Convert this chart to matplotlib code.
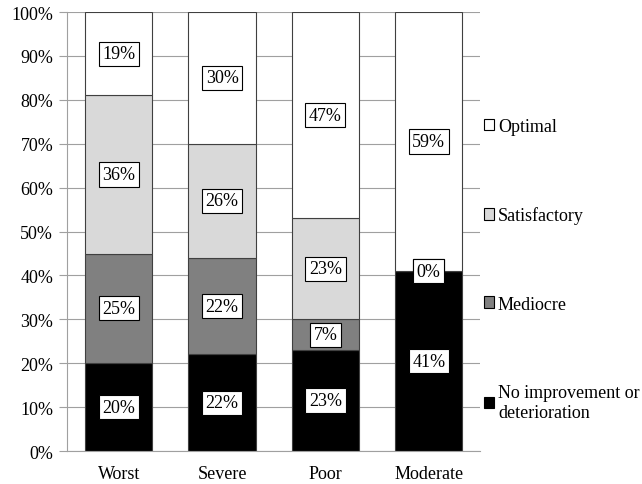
import matplotlib.pyplot as plt
from matplotlib.patches import Patch

plt.rcParams['font.family'] = ['Liberation Serif', 'DejaVu Serif']

categories = ["Worst", "Severe", "Poor", "Moderate"]
series_names = ["No improvement or\ndeterioration", "Mediocre", "Satisfactory", "Optimal"]
no_improvement = [20, 22, 23, 41]
mediocre = [25, 22, 7, 0]
satisfactory = [36, 26, 23, 0]
optimal = [19, 30, 47, 59]
colors = ["#000000", "#808080", "#d9d9d9", "#ffffff"]

fig = plt.figure(figsize=(6.42, 4.85), dpi=100)
ax = fig.add_axes([0.1044, 0.068, 0.644, 0.905])

x = range(len(categories))
bottom = [0] * len(categories)
handles = []
for name, vals, col in zip(series_names, [no_improvement, mediocre, satisfactory, optimal], colors):
    ax.bar(x, vals, width=0.65, bottom=bottom, color=col, edgecolor="#404040",
           linewidth=0.8, zorder=2)
    for i, v in enumerate(vals):
        ax.text(i, bottom[i] + v / 2, f"{v}%", ha="center", va="center", fontsize=13,
                zorder=3,
                bbox=dict(boxstyle="square,pad=0.2", facecolor="white",
                          edgecolor="black", linewidth=0.8))
    bottom = [b + v for b, v in zip(bottom, vals)]
    handles.append(Patch(facecolor=col, edgecolor="black", linewidth=0.8, label=name))

ax.set_xlim(-0.5, 3.5)
ax.set_ylim(0, 100)
ax.set_yticks(range(0, 101, 10))
ax.set_yticklabels([f"{t}%" for t in range(0, 101, 10)])
ax.set_xticks(list(x))
ax.set_xticklabels(categories)
ax.tick_params(axis="both", labelsize=13, colors="black")
ax.tick_params(axis="y", length=6, color="#a0a0a0", pad=4)
ax.tick_params(axis="x", length=0, pad=10)
ax.yaxis.grid(True, color="#a0a0a0", linewidth=0.8, zorder=0)
ax.set_axisbelow(True)
for s in ["top", "right"]:
    ax.spines[s].set_visible(False)
for s in ["left", "bottom"]:
    ax.spines[s].set_color("#a0a0a0")

ax.legend(handles=handles[::-1], loc="upper left", bbox_to_anchor=(0.99, 0.775),
          frameon=False, fontsize=13, handlelength=0.6, handleheight=0.6,
          handletextpad=0.2, labelspacing=3.95, borderaxespad=0.0)

fig.savefig("out.png", dpi=100)
